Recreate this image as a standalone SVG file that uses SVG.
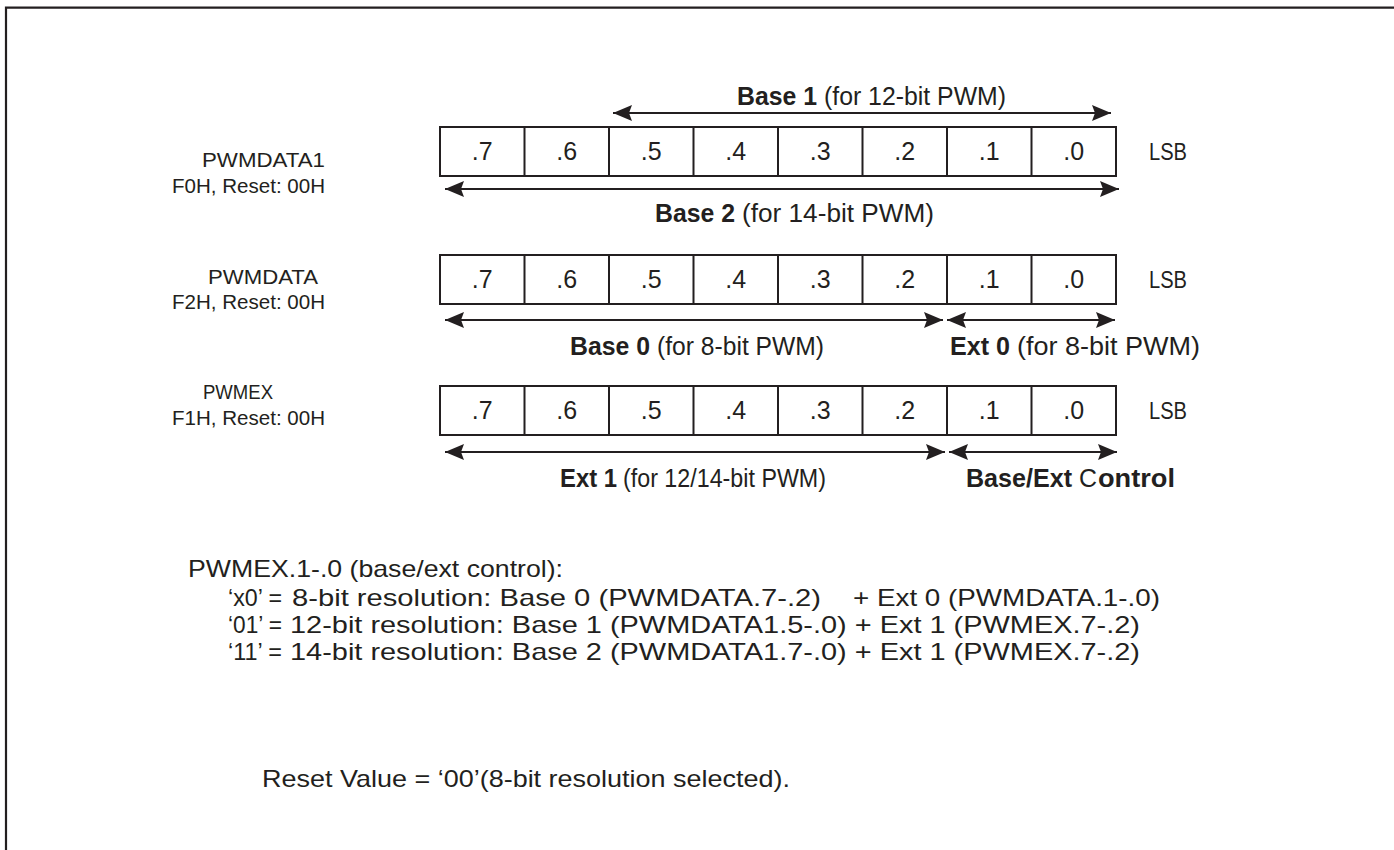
<svg xmlns="http://www.w3.org/2000/svg" width="1394" height="850" viewBox="0 0 1394 850">
<style>
text{font-family:"Liberation Sans",Arial,Helvetica,sans-serif;fill:#231f20}
.lbl{font-size:21px}
.lsb{font-size:23px}
.cell{font-size:25px;text-anchor:middle}
.al{font-size:25px}
.b{font-weight:bold}
.bt{font-size:24px}
.box{fill:none;stroke:#231f20;stroke-width:2}
.arr{stroke:#231f20;stroke-width:2;marker-start:url(#ah);marker-end:url(#ah)}
</style>
<defs>
<marker id="ah" markerUnits="userSpaceOnUse" markerWidth="19" markerHeight="18" refX="19" refY="9" orient="auto-start-reverse" viewBox="0 0 19 18">
<path d="M0,1 L19,9 L0,17 L3,9 z" fill="#231f20"/>
</marker>
<g id="cells">
<rect class="box" x="440" y="0" width="676" height="49"/>
<path class="box" d="M524.5,0V49M609,0V49M693.5,0V49M778,0V49M862.5,0V49M947,0V49M1031.5,0V49"/>
<text class="cell" x="482.25" y="33">.7</text>
<text class="cell" x="566.75" y="33">.6</text>
<text class="cell" x="651.25" y="33">.5</text>
<text class="cell" x="735.75" y="33">.4</text>
<text class="cell" x="820.25" y="33">.3</text>
<text class="cell" x="904.75" y="33">.2</text>
<text class="cell" x="989.25" y="33">.1</text>
<text class="cell" x="1073.75" y="33">.0</text>
<text class="lsb" x="1149" y="33" textLength="38" lengthAdjust="spacingAndGlyphs">LSB</text>
</g>
</defs>
<path d="M6,850V7.7H1394" fill="none" stroke="#231f20" stroke-width="2.2"/>

<g id="pwmdata1">
<text class="lbl" x="202" y="167" textLength="123" lengthAdjust="spacingAndGlyphs">PWMDATA1</text>
<text class="lbl" x="172" y="193" textLength="153" lengthAdjust="spacingAndGlyphs">F0H, Reset: 00H</text>
<use href="#cells" y="127"/>
</g>
<g id="pwmdata">
<text class="lbl" x="208" y="284" textLength="110" lengthAdjust="spacingAndGlyphs">PWMDATA</text>
<text class="lbl" x="172" y="309" textLength="153" lengthAdjust="spacingAndGlyphs">F2H, Reset: 00H</text>
<use href="#cells" y="255"/>
</g>
<g id="pwmex">
<text class="lbl" x="203" y="399" textLength="70" lengthAdjust="spacingAndGlyphs">PWMEX</text>
<text class="lbl" x="172" y="425" textLength="153" lengthAdjust="spacingAndGlyphs">F1H, Reset: 00H</text>
<use href="#cells" y="386"/>
</g>

<g id="connectors">
<line class="arr" x1="613" y1="113" x2="1111" y2="113"/>
<line class="arr" x1="445" y1="189" x2="1119" y2="189"/>
<line class="arr" x1="445" y1="320" x2="943" y2="320"/>
<line class="arr" x1="947" y1="320" x2="1115" y2="320"/>
<line class="arr" x1="445" y1="452" x2="945" y2="452"/>
<line class="arr" x1="949" y1="452" x2="1117" y2="452"/>
</g>

<g id="arrow-labels">
<text class="al b" x="737" y="105" textLength="80" lengthAdjust="spacingAndGlyphs">Base 1</text>
<text class="al" x="824" y="105" textLength="182" lengthAdjust="spacingAndGlyphs">(for 12-bit PWM)</text>
<text class="al b" x="655" y="222" textLength="80" lengthAdjust="spacingAndGlyphs">Base 2</text>
<text class="al" x="742" y="222" textLength="192" lengthAdjust="spacingAndGlyphs">(for 14-bit PWM)</text>
<text class="al b" x="570" y="355" textLength="80" lengthAdjust="spacingAndGlyphs">Base 0</text>
<text class="al" x="657" y="355" textLength="167" lengthAdjust="spacingAndGlyphs">(for 8-bit PWM)</text>
<text class="al b" x="950" y="355" textLength="60" lengthAdjust="spacingAndGlyphs">Ext 0</text>
<text class="al" x="1017" y="355" textLength="183" lengthAdjust="spacingAndGlyphs">(for 8-bit PWM)</text>
<text class="al b" x="560" y="487" textLength="57" lengthAdjust="spacingAndGlyphs">Ext 1</text>
<text class="al" x="623" y="487" textLength="203" lengthAdjust="spacingAndGlyphs">(for 12/14-bit PWM)</text>
<text class="al b" x="966" y="487" textLength="106" lengthAdjust="spacingAndGlyphs">Base/Ext</text>
<text class="al" x="1079" y="487" textLength="18" lengthAdjust="spacingAndGlyphs">C</text>
<text class="al b" x="1098" y="487" textLength="77" lengthAdjust="spacingAndGlyphs">ontrol</text>
</g>

<g id="notes">
<text class="bt" x="188" y="577" textLength="375" lengthAdjust="spacingAndGlyphs">PWMEX.1-.0 (base/ext control):</text>
<text class="bt" x="228" y="606" textLength="54" lengthAdjust="spacingAndGlyphs">‘x0’ =</text>
<text class="bt" x="292" y="606" textLength="529" lengthAdjust="spacingAndGlyphs">8-bit resolution: Base 0 (PWMDATA.7-.2)</text>
<text class="bt" x="853" y="606" textLength="307" lengthAdjust="spacingAndGlyphs">+ Ext 0 (PWMDATA.1-.0)</text>
<text class="bt" x="228" y="633" textLength="54" lengthAdjust="spacingAndGlyphs">‘01’ =</text>
<text class="bt" x="290" y="633" textLength="850" lengthAdjust="spacingAndGlyphs">12-bit resolution: Base 1 (PWMDATA1.5-.0) + Ext 1 (PWMEX.7-.2)</text>
<text class="bt" x="228" y="660" textLength="54" lengthAdjust="spacingAndGlyphs">‘11’ =</text>
<text class="bt" x="290" y="660" textLength="850" lengthAdjust="spacingAndGlyphs">14-bit resolution: Base 2 (PWMDATA1.7-.0) + Ext 1 (PWMEX.7-.2)</text>
<text class="bt" x="262" y="787" textLength="528" lengthAdjust="spacingAndGlyphs">Reset Value = ‘00’(8-bit resolution selected).</text>
</g>
</svg>
